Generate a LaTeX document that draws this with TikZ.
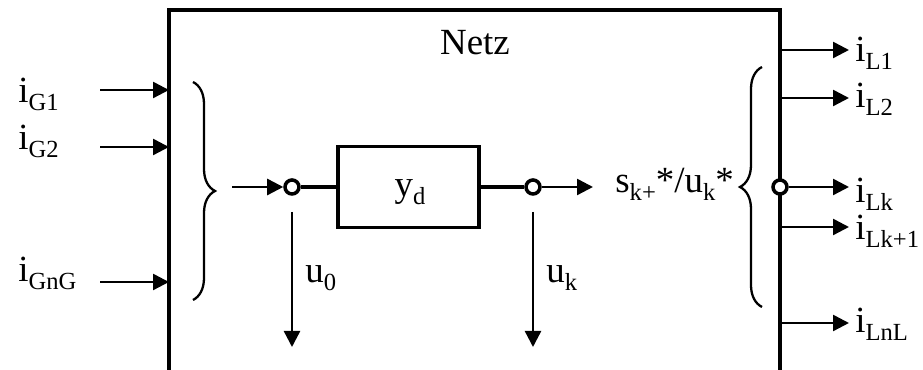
\documentclass[tikz,border=0pt]{standalone}
\usepackage{fontspec}
\setmainfont{Liberation Serif}
\usetikzlibrary{arrows.meta,decorations.pathreplacing,calc,positioning}
\newcommand{\idx}[1]{\raisebox{-4.5pt}{\fontsize{14}{14}\selectfont #1}}
\tikzset{
  wire/.style={
    line width=1.4pt,
    -{Triangle[length=0.32cm,width=0.32cm]}
  },
  bus/.style={
    line width=2.2pt
  },
  port/.style={
    shape=circle,
    draw,
    line width=2pt,
    fill=white,
    inner sep=0pt,
    minimum size=0.28cm
  },
  block/.style={
    draw,
    line width=2.2pt,
    minimum width=2.82cm,
    minimum height=1.62cm
  },
  lbl/.style={
    inner sep=0pt,
    font=\fontsize{21}{25}\selectfont
  },
  klammer/.style={
    decorate,
    decoration={brace,amplitude=0.44cm},
    line width=1.3pt
  },
}

\begin{document}
\begin{tikzpicture}
  \useasboundingbox (0,0) rectangle (18.46,7.4);
  % Netz
  \draw[bus] (3.38,0) -- (3.38,7.2) -- (15.6,7.2) -- (15.6,0);
  \node[lbl,anchor=base] (netz) at (9.5,6.3) {Netz};
  % Einspeisungen
  \foreach \n/\y/\b/\t in {1/5.6/5.34/G1, 2/4.46/4.4/G2, 3/1.76/1.76/GnG}{
    \coordinate (g\n) at (3.38,\y);
    \coordinate (gs\n) at (2.0,\y);
    \node[lbl,anchor=base west] (ig\n) at (0.36,\b) {i\idx{\t}};
    \draw[wire] (gs\n) -- (g\n);
  }
  \draw[klammer] (3.86,5.76) -- (3.86,1.4);
  % Zweig
  \coordinate (in) at (4.64,3.66);
  \node[port] (c0) at (5.84,3.66) {};
  \node[block] (yd) at (8.17,3.66) {};
  \node[lbl,anchor=base] at ($(yd.center)+(0.03,-0.2)$) {y\idx{d}};
  \node[port] (ck) at (10.66,3.66) {};
  \coordinate (out) at (11.86,3.66);
  \draw[wire] (in) -- (c0);
  \draw[bus] (c0) -- (yd.west);
  \draw[bus] (yd.east) -- (ck);
  \draw[wire] (ck) -- (out);
  \node[lbl,anchor=base west] (sk) at (12.3,3.54) {s\idx{k+}*/u\idx{k}*};
  % Spannungen
  \foreach \c/\x/\t in {c0/5.84/0, ck/10.66/k}{
    \coordinate (\c a) at (\x,3.16);
    \coordinate (\c b) at (\x,0.46);
    \draw[wire] (\c a) -- (\c b);
    \node[lbl,anchor=base west] at (\x+0.26,1.74) {u\idx{\t}};
  }
  % Lasten
  \draw[klammer] (15.24,1.26) -- (15.24,6.06);
  \node[port] (cl) at (15.6,3.66) {};
  \foreach \n/\y/\b/\t in {1/6.4/6.16/L1, 2/5.44/5.24/L2, 4/2.86/2.6/Lk+1, 5/0.94/0.74/LnL}{
    \coordinate (l\n) at (15.6,\y);
    \coordinate (le\n) at (16.98,\y);
    \node[lbl,anchor=base west] (il\n) at (17.1,\b) {i\idx{\t}};
    \draw[wire] (l\n) -- (le\n);
  }
  \coordinate (le3) at (16.98,3.66);
  \node[lbl,anchor=base west] (il3) at (17.1,3.34) {i\idx{Lk}};
  \draw[wire] (cl) -- (le3);
\end{tikzpicture}
\end{document}
